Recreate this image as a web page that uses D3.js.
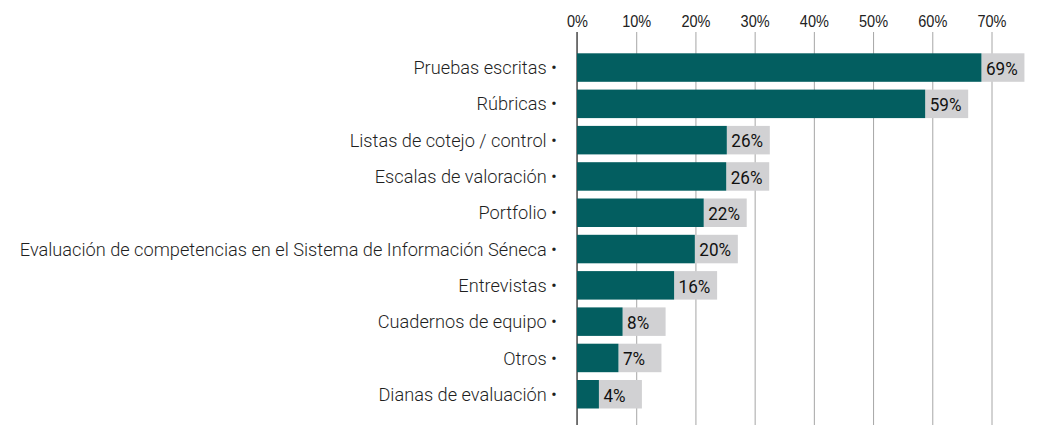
<!DOCTYPE html>
<html>
<head>
<meta charset="utf-8">
<script src="https://cdn.jsdelivr.net/npm/d3@7"></script>
<style>
  body { margin: 0; background: #fff; }
  svg { display: block; font-family: Roboto, sans-serif; }
  .grid line { stroke: #a6a6a6; stroke-width: 1; }
  .grid .domain { display: none; }
  .grid text { font-size: 16.5px; font-weight: 300; fill: #222; }
  .label { font-size: 18.2px; font-weight: 300; fill: #1f1f1f; }
  .value { font-size: 19px; font-weight: 400; fill: #111; }
</style>
</head>
<body>
<svg width="1045" height="425"></svg>
<script>
// categorias (de arriba a abajo)
const categories = [
  "Pruebas escritas",
  "Rúbricas",
  "Listas de cotejo / control",
  "Escalas de valoración",
  "Portfolio",
  "Evaluación de competencias en el Sistema de Información Séneca",
  "Entrevistas",
  "Cuadernos de equipo",
  "Otros",
  "Dianas de evaluación"
];
// longitud de las barras (%)
const values = [68.3, 58.8, 25.3, 25.2, 21.4, 19.9, 16.4, 7.7, 7.0, 3.7];
// etiquetas de valor tal como aparecen
const valueLabels = ["69%", "59%", "26%", "26%", "22%", "20%", "16%", "8%", "7%", "4%"];
// marcas del eje x
const ticks = [0, 10, 20, 30, 40, 50, 60, 70];

const svg = d3.select('svg');
const x0 = 577;
const xScale = d3.scaleLinear().domain([0, 70]).range([x0, 991.5]);
const yScale = d3.scaleBand()
  .domain(categories)
  .range([49.4, 412.4])
  .paddingInner(0.215)
  .paddingOuter(0.1075);

// rejilla + etiquetas arriba
const grid = svg.append('g')
  .attr('class', 'grid')
  .attr('transform', 'translate(0, 32)')
  .call(d3.axisBottom(xScale)
    .tickValues(ticks)
    .tickSize(400)
    .tickFormat(d => d + '%'));
grid.selectAll('.tick text')
  .attr('y', -5)
  .attr('dy', 0)
  .attr('transform', 'scale(0.88,1)');

// linea del eje
svg.append('line')
  .attr('x1', x0).attr('x2', x0)
  .attr('y1', 32).attr('y2', 425)
  .attr('stroke', '#555')
  .attr('stroke-width', 1.5);

const rows = svg.selectAll('.row')
  .data(categories)
  .enter()
  .append('g')
  .attr('class', 'row');

// caja gris detras de la etiqueta
rows.append('rect')
  .attr('x', (d, i) => xScale(values[i]))
  .attr('y', d => yScale(d))
  .attr('width', 43)
  .attr('height', yScale.bandwidth())
  .attr('fill', '#d1d1d3');

rows.append('rect')
  .attr('x', x0)
  .attr('y', d => yScale(d))
  .attr('width', (d, i) => xScale(values[i]) - x0)
  .attr('height', yScale.bandwidth())
  .attr('fill', '#035e60');

rows.append('g')
  .attr('transform', (d, i) => `translate(${xScale(values[i]) + 4.5}, ${yScale(d) + yScale.bandwidth() / 2 + 0.5})`)
  .append('text')
  .attr('class', 'value')
  .attr('dy', '0.36em')
  .attr('transform', 'scale(0.9,1)')
  .text((d, i) => valueLabels[i]);

rows.append('text')
  .attr('class', 'label')
  .attr('x', 557)
  .attr('y', d => yScale(d) + yScale.bandwidth() / 2)
  .attr('dy', '0.36em')
  .attr('text-anchor', 'end')
  .text(d => d + ' •');
</script>
</body>
</html>
